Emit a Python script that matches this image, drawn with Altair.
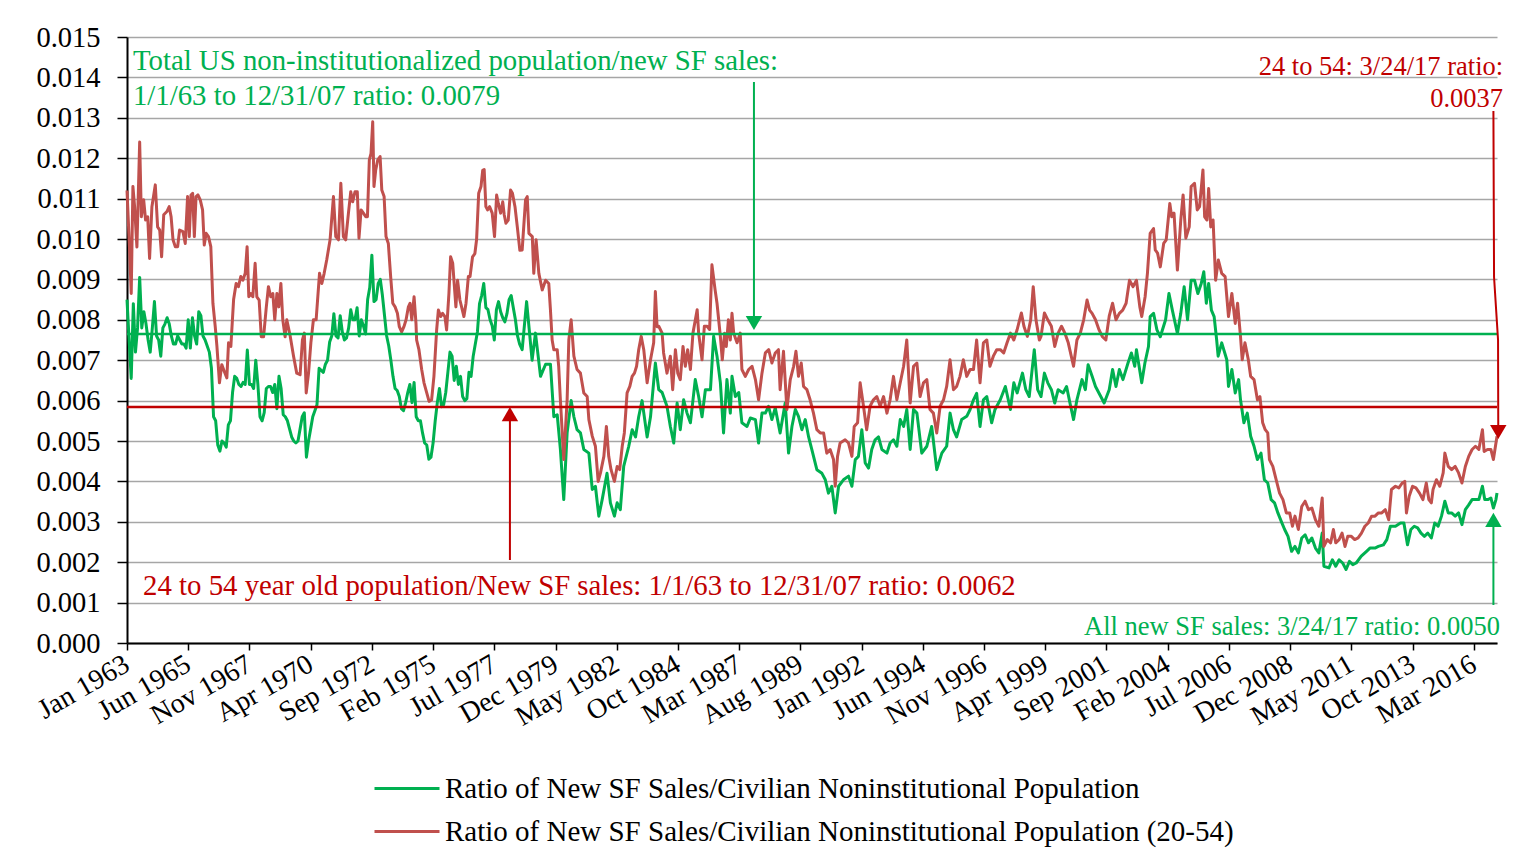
import altair as alt
import pandas as pd

SERIES_G = "Ratio of New SF Sales/Civilian Noninstitutional Population"
SERIES_R = "Ratio of New SF Sales/Civilian Noninstitutional Population (20-54)"

# x axis: month index counted from Jan 1963, a label every 29 months
tick_months = [0, 29, 58, 87, 116, 145, 174, 203, 232, 261, 290, 319, 348, 377,
               406, 435, 464, 493, 522, 551, 580, 609, 638]
tick_labels = ["Jan 1963", "Jun 1965", "Nov 1967", "Apr 1970", "Sep 1972", "Feb 1975",
               "Jul 1977", "Dec 1979", "May 1982", "Oct 1984", "Mar 1987", "Aug 1989",
               "Jan 1992", "Jun 1994", "Nov 1996", "Apr 1999", "Sep 2001", "Feb 2004",
               "Jul 2006", "Dec 2008", "May 2011", "Oct 2013", "Mar 2016"]

# green series (total population), values in thousandths
green_month = list(range(0, 187)) + [
    187.2, 189.3, 191.9, 193.5, 195.9, 198.3, 200.6, 202.2, 203.8, 205.3, 206.9, 208.5, 210.4, 211.7,
    213.2, 214.8, 216.4, 218.8, 220.4, 221.9, 223.5, 225.1, 227.4, 229.0, 230.9, 232.2, 233.7, 235.3,
    237.7, 239.3, 240.9, 242.4, 244.0, 246.4, 248.0, 250.3, 251.9, 253.5, 255.8, 257.4, 259.0, 260.6,
    262.1, 263.7, 265.3, 266.9, 269.2, 270.8, 272.4, 274.0, 276.4, 277.9, 279.5, 281.1, 282.6, 284.2,
    285.8, 286.6, 288.2, 289.8, 291.3, 293.7, 295.3, 297.7, 299.2, 300.8, 302.4, 303.9, 305.5, 307.1,
    309.4, 311.8, 313.4, 315.0, 316.6, 318.1, 319.7, 321.3, 322.9, 324.4, 326.8, 329.2, 330.8, 332.3,
    333.9, 335.5, 337.1, 339.4, 341.8, 343.4, 345.0, 346.5, 348.1, 349.7, 351.3, 352.8, 354.4, 356.0,
    357.6, 360.0, 361.5, 363.1, 364.7, 366.3, 367.9, 369.4, 371.0, 372.6, 374.2, 376.5, 378.9, 381.2,
    383.6, 386.0, 388.3, 389.9, 391.5, 393.0, 395.4, 397.8, 399.4, 401.0, 402.5, 404.1, 405.7, 407.3,
    409.6, 411.2, 413.7, 416.1, 418.5, 420.1, 421.7, 424.2, 425.8, 427.4, 429.8, 431.4, 433.0, 434.6,
    436.2, 437.9, 439.5, 441.1, 443.5, 445.1, 446.7, 448.4, 450.0, 452.4, 454.0, 455.3, 457.2, 458.8,
    461.3, 462.9, 465.3, 466.9, 468.5, 470.1, 471.8, 474.2, 475.8, 477.4, 478.2, 480.7, 482.2, 483.9,
    484.7, 486.3, 487.9, 489.5, 492.0, 493.6, 495.2, 497.6, 499.2, 500.8, 502.4, 504.1, 505.7, 507.3,
    508.9, 510.1, 511.3, 512.4, 513.7, 515.0, 516.2, 516.9, 518.6, 521.0, 521.8, 523.4, 525.0, 526.6,
    527.5, 529.1, 530.7, 532.3, 533.9, 535.5, 537.2, 538.8, 540.4, 542.0, 543.6, 545.2, 546.8, 548.4,
    550.0, 551.7, 553.3, 554.9, 556.5, 558.1, 559.7, 561.3, 563.0, 564.6, 566.2, 567.0, 569.4, 571.0,
    572.6, 574.2, 575.9, 577.5, 579.1, 580.7, 582.3, 584.7, 587.2, 588.8, 591.2, 592.8, 595.2, 596.8,
    598.5, 600.9, 603.3, 604.9, 606.6, 608.2, 609.8, 611.4, 613.0, 614.6, 616.2, 617.9, 619.5, 621.1,
    622.7, 624.3, 625.9, 627.5, 629.2, 630.8, 632.4, 634.0, 635.6, 637.2, 638.8, 640.4, 642.1, 643.2,
    644.8, 646.1, 647.3, 648.5, 649.0]
green_permille = [
    8.5, 7.5, 6.55, 8.4, 7.2, 7.8, 9.05, 7.8, 8.2, 7.9,
    7.5, 7.2, 7.8, 8.45, 7.6, 7.5, 7.1, 7.8, 7.9, 8.05,
    7.9, 7.6, 7.4, 7.4, 7.6, 7.5, 7.4, 7.4, 7.3, 8.0,
    7.3, 8.05, 7.6, 7.4, 8.2, 8.1, 7.6, 7.5, 7.35, 7.2,
    6.8, 5.6, 5.5, 4.9, 4.75, 5.0, 4.95, 4.85, 5.4, 5.5,
    6.2, 6.6, 6.55, 6.4, 6.35, 6.45, 6.4, 7.25, 6.4, 6.4,
    6.3, 7.0, 6.4, 5.6, 5.5, 5.7, 6.3, 6.35, 6.35, 6.2,
    6.4, 5.8, 6.6, 6.3, 5.65, 5.6, 5.5, 5.3, 5.1, 5.0,
    4.95, 5.0, 5.3, 5.6, 5.7, 4.6, 5.0, 5.3, 5.6, 5.75,
    5.9, 6.8, 6.75, 6.7, 6.9, 7.0, 7.45, 7.6, 8.15, 7.6,
    7.55, 8.1, 7.7, 7.5, 7.55, 7.8, 8.25, 8.0, 8.0, 8.3,
    7.6, 8.0, 7.85, 7.65, 8.5, 8.8, 9.6, 8.45, 8.5, 8.9,
    9.0, 8.6, 8.1, 7.6, 7.35, 7.0, 6.6, 6.3, 6.25, 6.1,
    5.8, 5.75, 5.95, 6.2, 6.4, 5.95, 6.45, 5.6, 5.5, 5.5,
    5.2, 4.95, 4.9, 4.55, 4.6, 4.95, 5.5, 5.95, 6.3, 5.85,
    5.9, 6.2, 6.7, 7.2, 7.1, 6.5, 6.85, 6.4, 6.6, 6.1,
    6.0, 6.05, 6.7, 6.6, 7.1, 7.4, 7.7, 8.4, 8.6, 8.9,
    8.3, 8.25, 8.0, 7.85, 7.5, 8.25, 8.45, 8.2, 8.05, 7.95,
    8.15, 8.5, 8.6, 8.3, 8.0, 7.6, 7.4,
    7.26, 8.45, 7.0, 7.67, 6.6, 6.9, 6.9, 5.6, 5.65, 4.8, 3.55, 5.2, 6.0, 5.6,
    5.28, 5.2, 4.79, 4.7, 3.8, 3.88, 3.14, 3.55, 4.2, 3.47, 3.14, 3.47, 3.3, 4.37,
    4.87, 5.28, 5.1, 5.6, 6.0, 5.1, 5.6, 6.93, 6.27, 6.2, 5.86, 5.36, 4.95, 5.94,
    5.28, 6.02, 5.69, 5.45, 6.52, 6.1, 5.6, 6.27, 6.27, 7.59, 7.1, 6.44, 5.2, 6.52,
    5.69, 6.6, 6.1, 6.2, 5.45, 5.36, 5.57, 5.53, 4.95, 5.69, 5.69, 5.86, 5.53, 5.82,
    5.2, 5.94, 4.7, 5.36, 5.78, 5.61, 5.28, 5.53, 5.1, 4.79, 4.29, 4.2, 4.04, 3.71,
    3.88, 3.22, 3.88, 4.04, 4.13, 3.88, 4.54, 4.62, 5.28, 4.46, 4.33, 4.79, 5.03, 5.1,
    4.79, 4.7, 4.95, 5.03, 4.87, 5.53, 5.36, 5.78, 4.79, 5.78, 5.69, 4.7, 4.87, 5.36,
    4.29, 4.7, 4.87, 5.69, 5.28, 5.1, 5.53, 5.61, 5.78, 6.02, 6.18, 5.36, 6.02, 6.1,
    5.45, 5.78, 6.02, 6.35, 5.78, 6.44, 6.19, 6.68, 6.27, 6.1, 7.26, 6.27, 6.1, 6.68,
    6.44, 6.27, 5.94, 6.27, 6.19, 6.35, 5.94, 5.53, 6.02, 6.52, 6.27, 6.89, 6.6, 6.35,
    6.1, 5.94, 6.27, 6.77, 6.35, 6.77, 6.52, 6.93, 7.18, 6.85, 7.26, 6.44, 6.93, 7.34,
    8.08, 8.16, 7.75, 7.58, 8.0, 8.65, 8.24, 7.66, 8.16, 8.82, 8.0, 8.98, 8.98, 8.65,
    8.9, 9.19, 8.41, 8.9, 8.24, 8.08, 7.5, 7.1, 7.43, 7.01, 6.35, 6.77, 6.19, 6.52,
    6.02, 5.45, 5.69, 5.12, 4.87, 4.54, 4.7, 4.04, 3.96, 3.55, 3.47, 3.22, 3.01, 2.81,
    2.64, 2.27, 2.39, 2.23, 2.6, 2.68, 2.48, 2.6, 2.35, 2.23, 2.72, 1.9, 1.86, 2.06,
    1.9, 2.06, 1.98, 1.82, 2.02, 1.94, 1.98, 2.15, 2.27, 2.35, 2.35, 2.39, 2.43, 2.56,
    2.89, 2.89, 2.97, 2.97, 2.43, 2.81, 2.89, 2.85, 2.72, 2.64, 2.72, 2.6, 2.97, 2.89,
    3.14, 3.51, 3.22, 3.22, 3.14, 3.22, 2.93, 3.3, 3.42, 3.55, 3.55, 3.55, 3.88, 3.55,
    3.55, 3.59, 3.34, 3.55, 3.71]

# red series (population aged 20-54), values in thousandths
red_month = [
    0, 1.3, 2.0, 2.8, 3.6, 4.7, 6.0, 6.8, 7.9, 8.8, 9.8, 10.7, 11.8, 13.4, 14.5, 15.5, 16.4, 17.4,
    18.9, 20.0, 20.9, 21.8, 22.9, 24.0, 24.9, 26.5, 27.6, 28.7, 29.5, 30.3, 31.1, 31.9, 32.7, 33.6,
    34.7, 35.8, 36.6, 37.5, 38.6, 39.7, 40.7, 41.8, 42.6, 43.8, 44.9, 46.1, 47.3, 48.1, 49.2, 50.5,
    51.7, 52.8, 53.9, 54.9, 56.0, 56.9, 57.7, 58.7, 59.6, 60.7, 61.5, 62.6, 63.6, 64.7, 66.0, 67.0,
    68.1, 69.1, 70.0, 71.0, 71.9, 72.9, 73.8, 74.9, 75.7, 77.3, 78.9, 80.4, 82.0, 83.1, 84.0, 84.9,
    86.0, 87.1, 88.3, 89.6, 91.2, 92.3, 93.4, 94.6, 96.2, 97.8, 98.9, 100.2, 101.3, 102.5, 103.6,
    104.9, 106.0, 106.9, 108.0, 109.1, 109.9, 110.9, 112.0, 113.1, 113.9, 114.8, 115.6, 116.4, 117.0,
    117.8, 118.8, 119.9, 120.7, 121.8, 122.7, 123.8, 124.9, 125.9, 127.0, 128.1, 129.0, 130.1, 131.2,
    132.2, 133.3, 134.1, 134.9, 136.0, 136.9, 137.2, 138.3, 139.6, 140.7, 142.0, 143.1, 144.3, 145.4,
    146.7, 147.5, 148.6, 149.5, 150.6, 151.4, 152.5, 153.3, 154.3, 155.1, 155.8, 156.6, 157.7, 158.5,
    159.6, 160.6, 161.7, 162.5, 163.7, 164.8, 165.6, 166.6, 167.7, 168.5, 169.2, 170.0, 170.8, 171.8,
    173.0, 174.1, 175.1, 175.9, 177.0, 178.0, 178.7, 179.5, 180.6, 181.7, 182.6, 183.8, 184.9, 186.1,
    187.2, 188.8, 189.6, 190.4, 192.0, 192.7, 193.8, 195.1, 196.7, 198.3, 199.8, 200.6, 201.4, 202.2,
    203.8, 204.5, 205.3, 206.9, 208.5, 209.3, 210.4, 211.7, 213.2, 214.8, 216.4, 218.0, 218.8, 220.4,
    221.9, 223.2, 224.3, 225.9, 227.1, 228.2, 229.3, 230.9, 232.2, 233.4, 234.6, 235.6, 236.9, 238.2,
    239.3, 240.4, 241.4, 242.4, 243.6, 244.8, 246.4, 248.0, 249.5, 250.3, 251.1, 251.9, 253.5, 254.2,
    255.8, 257.4, 258.5, 259.8, 260.9, 262.1, 263.4, 264.5, 265.6, 266.9, 268.1, 270.1, 270.8, 272.4,
    273.5, 274.8, 276.0, 277.1, 278.6, 279.5, 281.1, 282.0, 283.1, 283.9, 284.9, 285.8, 286.6, 287.4,
    289.0, 290.5, 291.3, 292.9, 294.5, 296.1, 297.7, 299.2, 300.8, 302.4, 304.0, 305.5, 307.1, 308.6,
    309.4, 311.0, 312.6, 314.2, 315.8, 316.9, 318.1, 319.4, 320.5, 322.1, 323.6, 325.2, 326.8, 328.4,
    330.0, 331.5, 333.1, 334.7, 335.5, 336.6, 337.8, 340.2, 341.8, 343.4, 344.5, 346.1, 347.3, 348.9,
    350.4, 352.0, 353.6, 355.2, 356.8, 358.4, 360.0, 361.5, 363.1, 364.7, 366.3, 367.9, 369.4, 371.0,
    372.6, 374.2, 375.7, 377.3, 378.9, 380.4, 382.0, 383.6, 385.2, 386.8, 388.3, 389.9, 391.5, 393.0,
    394.6, 396.2, 397.8, 399.4, 401.0, 402.5, 404.1, 405.7, 407.3, 408.8, 410.4, 412.0, 413.7, 415.3,
    416.9, 418.5, 420.1, 421.7, 423.7, 424.9, 426.5, 428.1, 429.3, 430.6, 432.2, 433.0, 434.6, 436.2,
    437.9, 439.5, 441.1, 442.7, 444.3, 445.9, 448.4, 450.0, 451.6, 453.2, 454.8, 456.0, 457.2, 458.8,
    460.5, 462.1, 463.7, 465.3, 466.9, 468.5, 470.1, 471.7, 473.3, 474.9, 476.6, 478.2, 479.8, 480.7,
    482.3, 483.4, 484.7, 486.3, 487.1, 488.2, 489.5, 491.1, 492.3, 494.0, 494.9, 496.0, 497.6, 499.2,
    500.3, 501.6, 503.2, 504.1, 505.7, 507.0, 508.1, 509.7, 510.5, 511.6, 512.4, 513.4, 514.5, 515.7,
    517.0, 518.6, 520.2, 521.8, 523.4, 525.0, 526.1, 527.5, 528.3, 529.6, 531.2, 532.3, 533.9, 535.5,
    536.7, 538.0, 539.2, 540.4, 541.2, 542.8, 544.4, 546.0, 547.6, 549.2, 550.8, 552.1, 553.3, 554.9,
    556.5, 558.1, 559.7, 561.3, 563.0, 564.6, 566.2, 567.0, 568.6, 570.2, 571.5, 572.6, 574.2, 575.6,
    577.0, 578.3, 580.0, 581.6, 583.2, 584.8, 586.4, 588.0, 589.6, 591.2, 592.8, 594.4, 596.1, 597.7,
    599.0, 600.9, 602.5, 604.1, 605.3, 606.1, 607.4, 609.0, 610.6, 612.3, 613.9, 615.5, 616.7, 617.9,
    618.7, 620.3, 621.9, 623.5, 624.3, 625.9, 627.5, 629.2, 630.8, 632.4, 634.0, 635.6, 637.2, 638.8,
    640.4, 642.1, 642.9, 644.5, 646.1, 647.3, 648.5, 649.0]
red_permille = [
    11.2, 9.65, 8.65, 11.3, 10.8, 9.8, 12.4, 10.55, 10.97, 10.47, 10.55, 9.52, 10.8, 11.34, 10.3, 10.22, 9.56, 10.6,
    10.68, 10.8, 10.55, 9.98, 9.81, 9.81, 10.22, 10.18, 9.89, 11.05, 10.06, 11.09, 11.13, 10.06, 11.05, 11.09,
    10.97, 10.72, 9.85, 10.14, 10.06, 9.81, 8.41, 7.83, 7.34, 6.44, 6.89, 6.72, 6.56, 7.43, 7.34, 8.5,
    8.9, 8.82, 9.07, 8.98, 9.15, 9.81, 8.57, 8.65, 8.57, 9.4, 8.57, 8.49, 7.58, 7.58, 8.32, 8.82,
    8.57, 8.65, 8.0, 8.65, 8.32, 8.9, 8.0, 7.58, 8.0, 7.6, 7.1, 6.68, 6.64, 7.5, 7.67, 6.19,
    6.68, 7.43, 8.0, 8.0, 9.15, 8.9, 9.15, 9.48, 9.98, 11.05, 10.06, 9.98, 11.38, 10.06, 9.98,
    10.64, 11.17, 10.92, 11.17, 11.17, 10.02, 10.72, 10.64, 10.55, 10.55, 11.96, 12.12, 12.9, 11.3,
    11.7, 11.96, 12.04, 11.21, 11.05, 10.06, 9.89, 9.07, 8.41, 8.32, 8.16, 7.83, 7.7, 7.83,
    8.0, 8.32, 8.41, 8.0, 8.57, 7.91, 7.5, 7.26, 6.77, 6.44, 6.19, 5.98, 6.02, 6.6,
    7.76, 8.24, 8.08, 8.16, 8.08, 7.75, 8.65, 9.56, 9.4, 8.82, 8.32, 8.98, 8.49, 8.32,
    8.08, 8.41, 9.07, 9.07, 9.56, 9.64, 9.98, 11.13, 11.3, 11.7, 11.72, 10.8, 10.72, 10.8,
    10.64, 10.06, 11.09, 10.88, 10.64, 10.92, 10.6, 10.39, 10.47, 11.21, 11.13, 10.8, 10.3, 9.72,
    9.73, 10.97, 11.05, 10.14, 10.06, 9.15, 9.98, 9.15, 8.74, 8.98, 8.9, 8.24, 7.5, 7.26,
    7.26, 6.85, 6.02, 4.54, 6.02, 7.5, 8.0, 7.1, 6.77, 6.68, 6.19, 6.1, 5.53, 5.12,
    4.87, 4.0, 4.21, 4.62, 5.36, 4.62, 4.29, 4.0, 4.37, 4.29, 4.87, 5.2, 6.19, 6.35,
    6.6, 6.68, 6.85, 7.26, 7.59, 7.26, 6.44, 7.01, 7.43, 8.7, 7.83, 7.84, 7.67, 7.18,
    6.68, 7.1, 6.27, 7.26, 6.68, 6.52, 7.34, 6.85, 7.26, 6.77, 7.67, 8.25, 7.67, 7.01,
    7.84, 7.84, 7.76, 9.36, 8.74, 8.41, 7.58, 7.01, 7.67, 7.34, 8.0, 7.5, 8.16, 7.67,
    7.43, 7.67, 6.77, 6.6, 6.77, 6.85, 6.52, 6.02, 6.68, 7.18, 7.26, 6.93, 7.18, 7.26,
    6.27, 7.22, 5.78, 6.52, 6.85, 7.22, 6.6, 6.93, 6.35, 6.27, 6.02, 5.69, 5.28, 5.2,
    5.2, 4.7, 4.79, 4.54, 3.88, 4.62, 4.95, 5.03, 4.95, 4.62, 5.36, 5.45, 6.44, 5.86,
    5.28, 5.86, 6.02, 6.1, 5.86, 6.1, 5.69, 6.02, 6.6, 6.02, 6.44, 6.85, 7.5, 5.94,
    6.85, 6.93, 6.1, 6.44, 6.52, 5.78, 5.69, 5.2, 5.86, 6.02, 6.35, 7.01, 6.27, 6.35,
    6.6, 7.01, 6.6, 6.77, 6.77, 7.5, 6.44, 7.43, 7.5, 6.85, 7.1, 7.26, 7.26, 7.18,
    7.43, 7.67, 7.5, 7.76, 8.17, 7.84, 7.59, 8.0, 8.82, 8.0, 7.5, 7.59, 8.17, 8.0,
    7.84, 7.34, 7.67, 7.84, 7.67, 7.43, 6.85, 7.5, 7.67, 8.0, 8.49, 8.24, 8.16, 8.0,
    7.75, 7.58, 7.5, 8.09, 8.41, 8.0, 8.16, 8.24, 8.41, 8.98, 8.82, 8.98, 8.32, 8.08,
    8.57, 9.15, 10.14, 10.26, 9.73, 9.65, 9.31, 9.89, 9.98, 10.88, 10.55, 10.64, 9.23, 10.47,
    11.09, 10.02, 10.3, 11.3, 11.38, 10.72, 10.8, 11.71, 10.55, 10.47, 11.25, 10.3, 10.47, 8.98,
    9.48, 9.15, 9.07, 8.08, 8.65, 7.91, 8.41, 7.58, 7.01, 7.43, 7.01, 6.6, 6.52, 6.02,
    6.1, 5.45, 5.28, 5.2, 4.54, 4.37, 4.04, 3.71, 3.55, 3.22, 3.22, 2.89, 3.14, 2.81,
    3.38, 3.51, 3.3, 3.34, 3.05, 2.89, 3.59, 2.39, 2.56, 2.48, 2.81, 2.48, 2.56, 2.72,
    2.39, 2.64, 2.64, 2.56, 2.6, 2.72, 2.89, 2.97, 3.14, 3.14, 3.22, 3.22, 3.3, 3.05,
    3.8, 3.88, 3.84, 3.96, 4.0, 3.22, 3.63, 3.88, 3.84, 3.71, 3.55, 3.96, 3.55, 3.47,
    3.8, 4.04, 3.88, 4.21, 4.7, 4.37, 4.29, 4.37, 4.21, 3.96, 4.37, 4.62, 4.79, 4.87,
    4.79, 5.28, 4.74, 4.79, 4.79, 4.54, 4.95, 5.12]

# horizontal average lines, as drawn
ref_values = [0.00765, 0.00584]
ref_colors = ["#00b050", "#c00000"]

# annotations (month index, ratio)
notes_left = [
    (2.8, 0.014183, "Total US non-institutionalized population/new SF sales:", "#00b050"),
    (2.8, 0.013317, "1/1/63 to 12/31/07 ratio: 0.0079", "#00b050"),
    (7.6, 0.001188, "24 to 54 year old population/New SF sales: 1/1/63 to 12/31/07 ratio: 0.0062", "#c00000"),
]
notes_right = [
    (651.9, 0.014059, "24 to 54: 3/24/17 ratio:", "#c00000"),
    (651.9, 0.013267, "0.0037", "#c00000"),
    (650.4, 0.000198, "All new SF sales: 3/24/17 ratio: 0.0050", "#00b050"),
]
arrow_paths = [
    ("g1", [(297.0, 0.013886), (297.0, 0.007921)], "#00b050"),
    ("r1", [(181.4, 0.002054), (181.4, 0.005668)], "#c00000"),
    ("r2", [(647.3, 0.013168), (647.6, 0.009059), (649.5, 0.0075), (649.6, 0.005322)], "#c00000"),
    ("g2", [(647.3, 0.000941), (647.3, 0.003045)], "#00b050"),
]
arrow_heads = [
    (297.0, 0.007921, "triangle-down", "#00b050"),
    (181.4, 0.005668, "triangle-up", "#c00000"),
    (649.6, 0.005223, "triangle-down", "#c00000"),
    (647.3, 0.003045, "triangle-up", "#00b050"),
]

FONT = "Liberation Serif"

df = pd.concat([
    pd.DataFrame({"m": green_month, "v": [x / 1000 for x in green_permille], "series": SERIES_G}),
    pd.DataFrame({"m": red_month, "v": [x / 1000 for x in red_permille], "series": SERIES_R}),
])

label_js = "[" + ",".join("'%s'" % t for t in tick_labels) + "][round(datum.value/29)]"

x_enc = alt.X("m:Q", scale=alt.Scale(domain=[0, 649], nice=False, zero=False),
              axis=alt.Axis(values=tick_months, labelExpr=label_js, title=None, grid=False,
                            labelAngle=-30, labelAlign="right", labelBaseline="middle",
                            labelFont=FONT, labelFontSize=28, labelColor="black",
                            labelPadding=12, tickSize=7, tickColor="black", tickWidth=1.5,
                            domainColor="black", domainWidth=2, labelOverlap=False,
                            labelFlush=False))
y_enc = alt.Y("v:Q", scale=alt.Scale(domain=[0, 0.015], nice=False),
              axis=alt.Axis(values=[i / 1000 for i in range(16)], format=".3f", title=None,
                            grid=True, gridColor="#a6a6a6", gridWidth=1.5,
                            labelFont=FONT, labelFontSize=28.5, labelColor="black",
                            labelPadding=17, tickSize=10, tickColor="black", tickWidth=1.5,
                            domainColor="black", domainWidth=2, labelOverlap=False))

lines = alt.Chart(df).mark_line(strokeWidth=3, strokeJoin="round").encode(
    x=x_enc, y=y_enc,
    color=alt.Color("series:N",
                    scale=alt.Scale(domain=[SERIES_G, SERIES_R], range=["#00b050", "#c0504d"]),
                    legend=alt.Legend(orient="none", legendX=246, legendY=730, title=None,
                                      symbolType="stroke", symbolSize=4225, symbolStrokeWidth=3,
                                      labelFont=FONT, labelFontSize=29, labelColor="black",
                                      labelLimit=2000, rowPadding=0, clipHeight=43,
                                      labelOffset=4, padding=0, direction="vertical")),
)

ref_df = pd.DataFrame({"v": ref_values, "c": ref_colors})
refs = alt.Chart(ref_df).mark_rule(strokeWidth=2.5).encode(
    y="v:Q", color=alt.Color("c:N", scale=None))

arr_rows = []
for aid, pts, col in arrow_paths:
    for k, (m, v) in enumerate(pts):
        arr_rows.append({"id": aid, "k": k, "m": m, "v": v, "c": col})
arr_df = pd.DataFrame(arr_rows)
shafts = alt.Chart(arr_df).mark_line(strokeWidth=2).encode(
    x="m:Q", y="v:Q", detail="id:N", order="k:Q", color=alt.Color("c:N", scale=None))

head_df = pd.DataFrame(arrow_heads, columns=["m", "v", "shape", "c"])
heads = alt.Chart(head_df).mark_point(filled=True, size=270, opacity=1).encode(
    x="m:Q", y="v:Q", shape=alt.Shape("shape:N", scale=None),
    color=alt.Color("c:N", scale=None))

tl_df = pd.DataFrame(notes_left, columns=["m", "v", "t", "c"])
tr_df = pd.DataFrame(notes_right, columns=["m", "v", "t", "c"])
texts_l = alt.Chart(tl_df).mark_text(font=FONT, fontSize=28.8, align="left", baseline="alphabetic").encode(
    x="m:Q", y="v:Q", text="t:N", color=alt.Color("c:N", scale=None))
texts_r = alt.Chart(tr_df).mark_text(font=FONT, fontSize=26.5, align="right", baseline="alphabetic").encode(
    x="m:Q", y="v:Q", text="t:N", color=alt.Color("c:N", scale=None))

chart = alt.layer(lines, refs, shafts, heads, texts_l, texts_r).properties(
    width=1370, height=606,
    padding={"left": 119, "top": 29, "right": 27, "bottom": 210},
    autosize=alt.AutoSizeParams(type="none"),
    background="white",
).configure_view(stroke=None)

chart.save("out.html", embed_options={"renderer": "svg", "actions": False})
